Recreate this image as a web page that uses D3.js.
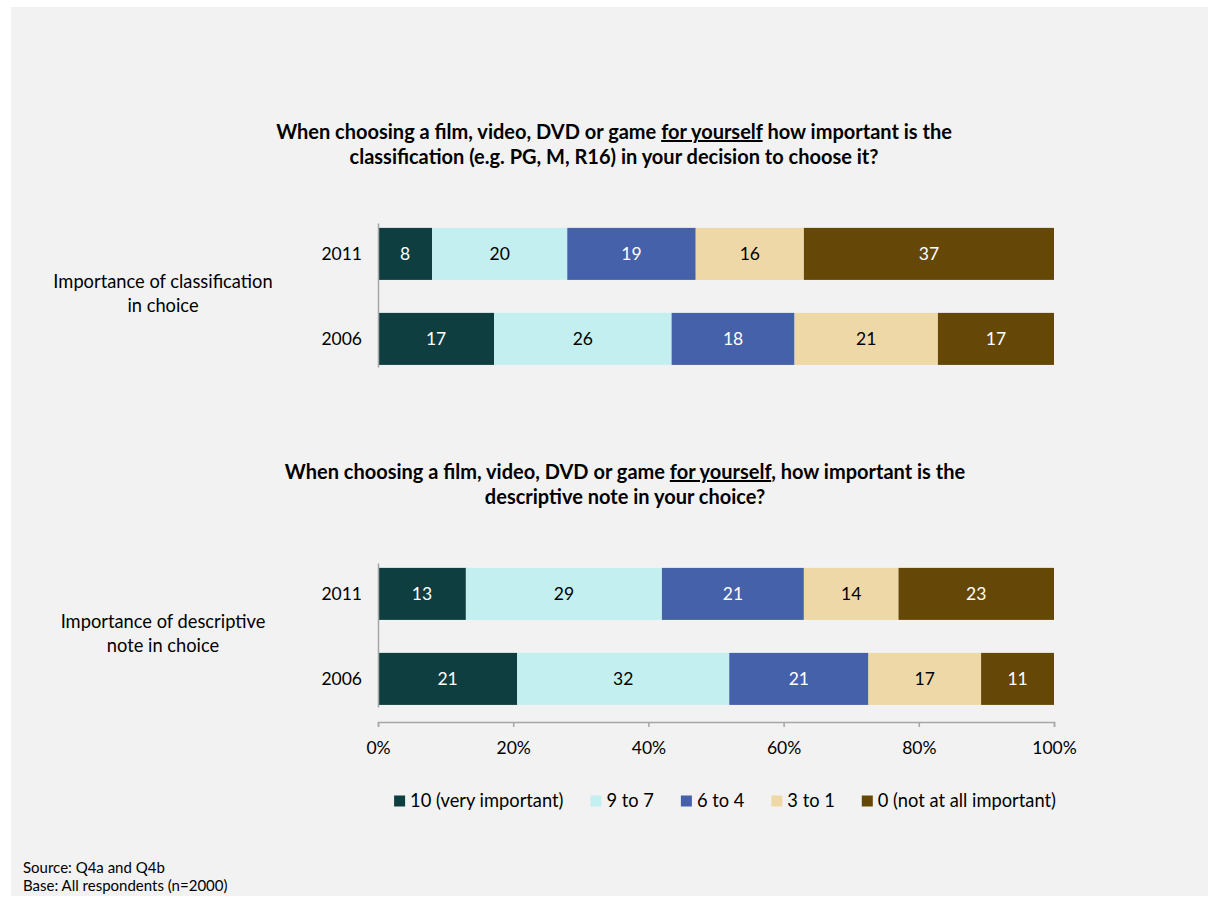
<!DOCTYPE html>
<html>
<head>
<meta charset="utf-8">
<script src="https://cdn.jsdelivr.net/npm/d3@7/dist/d3.min.js"></script>
<style>
  body { margin: 0; background: #ffffff; }
  svg { display: block; }
  text { font-family: Lato, "Open Sans", sans-serif; fill: #000; }
</style>
</head>
<body>
<svg id="chart" width="1208" height="898"></svg>
<script>
// Survey answers, percentage of respondents per importance band
const years = ["2011", "2006"];
const seriesNames = ["10 (very important)", "9 to 7", "6 to 4", "3 to 1", "0 (not at all important)"];
const seriesColors = ["#0e3e40", "#c4eff1", "#4561a9", "#efd8a8", "#654808"];
const labelColors = ["#ffffff", "#000000", "#ffffff", "#000000", "#ffffff"];

const classification2011 = [8, 20, 19, 16, 37];
const classification2006 = [17, 26, 18, 21, 17];
const descriptive2011 = [13, 29, 21, 14, 23];
const descriptive2006 = [21, 32, 21, 17, 11];

const xTickValues = [0, 0.2, 0.4, 0.6, 0.8, 1];

const panels = [
  {
    title: [
      [{ t: "When choosing a film, video, DVD or game " }, { t: "for yourself", u: true }, { t: " how important is the" }],
      [{ t: "classification (e.g. PG, M, R16) in your decision to choose it?" }]
    ],
    titleX: 614, titleY: 139,
    group: ["Importance of classification", "in choice"],
    rows: { "2011": classification2011, "2006": classification2006 },
    top: 223
  },
  {
    title: [
      [{ t: "When choosing a film, video, DVD or game " }, { t: "for yourself", u: true }, { t: ", how important is the" }],
      [{ t: "descriptive note in your choice?" }]
    ],
    titleX: 625, titleY: 479,
    group: ["Importance of descriptive", "note in choice"],
    rows: { "2011": descriptive2011, "2006": descriptive2006 },
    top: 563
  }
];

const svg = d3.select("#chart");

// light grey canvas
svg.append("rect")
  .attr("x", 11).attr("y", 7)
  .attr("width", 1208 - 11).attr("height", 896 - 7)
  .attr("fill", "#f2f2f2");

const x = d3.scaleLinear().domain([0, 1]).range([378, 1054]);

const stack = d3.stack()
  .keys(d3.range(seriesNames.length))
  .value((d, k) => d.values[k])
  .offset(d3.stackOffsetExpand);

panels.forEach(p => {
  const g = svg.append("g");

  // title with underlined phrase
  p.title.forEach((line, i) => {
    const t = g.append("text")
      .attr("x", p.titleX)
      .attr("y", p.titleY + i * 25)
      .attr("text-anchor", "middle")
      .style("font-size", "20px")
      .style("font-weight", "700");
    line.forEach(part => {
      t.append("tspan")
        .text(part.t)
        .style("text-decoration", part.u ? "underline" : null);
    });
  });

  const y = d3.scaleBand()
    .domain(years)
    .range([p.top, p.top + 144])
    .paddingInner(0.388)
    .paddingOuter(0.041)
    .align(0.7);

  const data = years.map(yr => ({ year: yr, values: p.rows[yr] }));
  const layers = stack(data);

  // group label
  const midY = (y("2011") + y("2006") + y.bandwidth()) / 2;
  g.append("text")
    .attr("x", 163)
    .attr("y", midY - 15)
    .attr("text-anchor", "middle")
    .style("font-size", "18.3px")
    .selectAll("tspan")
    .data(p.group)
    .join("tspan")
    .attr("x", 163)
    .attr("dy", (d, i) => i === 0 ? "0.35em" : "24px")
    .text(d => d);

  layers.forEach((layer, k) => {
    const lg = g.append("g");
    lg.selectAll("rect")
      .data(layer)
      .join("rect")
      .attr("x", d => x(d[0]))
      .attr("y", d => y(d.data.year))
      .attr("width", d => x(d[1]) - x(d[0]))
      .attr("height", y.bandwidth())
      .attr("fill", seriesColors[k]);
    lg.selectAll("text")
      .data(layer)
      .join("text")
      .attr("x", d => (x(d[0]) + x(d[1])) / 2)
      .attr("y", d => y(d.data.year) + y.bandwidth() / 2)
      .attr("dy", "0.35em")
      .attr("text-anchor", "middle")
      .style("font-size", "17.5px")
      .style("fill", labelColors[k])
      .text(d => d.data.values[k]);
  });

  // category axis
  const ax = g.append("g")
    .attr("transform", `translate(${x(0)},0)`)
    .call(d3.axisLeft(y).tickSize(0).tickSizeOuter(0).tickPadding(16));
  ax.select(".domain").attr("stroke", "#a6a6a6").attr("stroke-width", 1.5);
  ax.selectAll(".tick text")
    .style("font-size", "17.5px")
    .style("font-family", "Lato, sans-serif")
    .attr("fill", "#000");
});

// percentage axis
const xAxis = svg.append("g")
  .attr("transform", "translate(0,722)")
  .call(d3.axisBottom(x).tickValues(xTickValues).tickFormat(d3.format(".0%")).tickSize(5).tickSizeOuter(5).tickPadding(15));
xAxis.select(".domain").attr("stroke", "#a6a6a6").attr("stroke-width", 1.5);
xAxis.selectAll(".tick line").attr("stroke", "#a6a6a6").attr("stroke-width", 1.5);
xAxis.selectAll(".tick text")
  .style("font-size", "17.5px")
  .style("font-family", "Lato, sans-serif")
  .attr("fill", "#000");

// legend
const legend = svg.append("g").attr("transform", "translate(0,801)");
const items = legend.selectAll("g")
  .data(seriesNames)
  .join("g");
items.append("rect")
  .attr("y", -5.5)
  .attr("width", 11)
  .attr("height", 11)
  .attr("fill", (d, i) => seriesColors[i]);
items.append("text")
  .attr("x", 16)
  .attr("dy", "0.35em")
  .style("font-size", "18.3px")
  .text(d => d);
let cx = 0;
const offsets = [];
items.each(function () {
  offsets.push(cx);
  const w = d3.select(this).select("text").node().getComputedTextLength();
  cx += 16 + w + 27;
});
const total = cx - 27;
const start = 725 - total / 2;
items.attr("transform", (d, i) => `translate(${start + offsets[i]},0)`);

// footnote
svg.append("text")
  .attr("x", 23)
  .attr("y", 868)
  .style("font-size", "15px")
  .selectAll("tspan")
  .data(["Source: Q4a and Q4b", "Base: All respondents (n=2000)"])
  .join("tspan")
  .attr("x", 23)
  .attr("dy", (d, i) => i === 0 ? "0.35em" : "18px")
  .text(d => d);
</script>
</body>
</html>
